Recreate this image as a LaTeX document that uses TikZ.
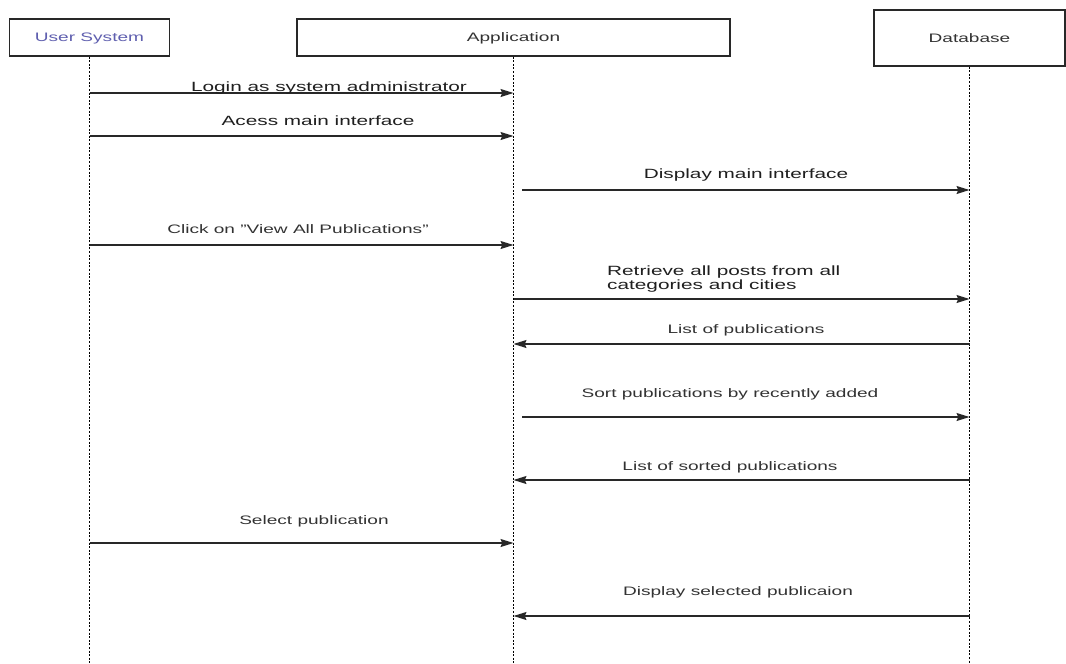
\documentclass[tikz,border=0pt]{standalone}
\usepackage{fontspec}
\setmainfont{Liberation Sans}[FakeStretch=1.55]
\usetikzlibrary{arrows.meta}
\definecolor{edge}{RGB}{40,40,40}
\definecolor{txt}{RGB}{50,50,50}
\definecolor{actor}{RGB}{95,95,175}
\tikzset{
  lane/.style={draw=edge, line width=1.2pt, fill=white, inner sep=0pt},
  lifeline/.style={draw=black, line width=1.8pt, dash pattern=on 2pt off 1.6pt},
  msg/.style={draw=edge, line width=1.2pt, -{Stealth[length=13pt,width=8pt,inset=1.8pt]}},
  big/.style={font=\fontsize{13.4}{15}\selectfont, text=black!88, inner sep=0pt, anchor=base},
  small/.style={font=\fontsize{12.3}{14}\selectfont, text=txt, inner sep=0pt, anchor=base},
}
\begin{document}
\begin{tikzpicture}[x=1pt,y=-1pt]
\useasboundingbox (0,0) rectangle (1066,664);

% participants
\node[lane, minimum width=160.5pt, minimum height=37pt] (user) at (89.5,37.5) {};
\node[lane, minimum width=433pt, minimum height=37pt] (app) at (513.5,37.5) {};
\node[lane, minimum width=191pt, minimum height=56pt] (db) at (969.5,38) {};
\node[small, text=actor] (usert) at (89.5,41) {User System};
\node[small] (appt) at (513.5,41) {Application};
\node[small] (dbt) at (969.5,42.5) {Database};

% lifelines
\coordinate (userend) at (89.5,664);
\coordinate (append) at (513.5,664);
\coordinate (dbend) at (969.5,664);
\draw[lifeline] (user.south) -- (userend);
\draw[lifeline] (app.south) -- (append);
\draw[lifeline] (db.south) -- (dbend);

% messages
\draw[msg] (user |- 0,93) -- (app |- 0,93);
\node[big] (l1) at (329,91) {Login as system administrator};

\draw[msg] (user |- 0,136) -- (app |- 0,136);
\node[big] (l2) at (318,125) {Acess main interface};

\coordinate (s3) at (522,190);
\draw[msg] (s3) -- (db |- s3);
\node[big] (l3) at (746,178) {Display main interface};

\draw[msg] (user |- 0,245) -- (app |- 0,245);
\node[small] (l4) at (298,233) {Click on "View All Publications"};

\draw[msg] (app |- 0,299) -- (db |- 0,299);
\node[big, anchor=base west] (l5a) at (607,275) {Retrieve all posts from all};
\node[big, anchor=base west] (l5b) at (607,289) {categories and cities};

\draw[msg] (db |- 0,344) -- (app |- 0,344);
\node[small] (l6) at (746,333) {List of publications};

\coordinate (s7) at (522,417);
\draw[msg] (s7) -- (db |- s7);
\node[small] (l7) at (730,397) {Sort publications by recently added};

\draw[msg] (db |- 0,480) -- (app |- 0,480);
\node[small] (l8) at (730,470) {List of sorted publications};

\draw[msg] (user |- 0,543) -- (app |- 0,543);
\node[small] (l9) at (314,524) {Select publication};

\draw[msg] (db |- 0,616) -- (app |- 0,616);
\node[small] (l10) at (738,595) {Display selected publicaion};
\end{tikzpicture}
\end{document}
